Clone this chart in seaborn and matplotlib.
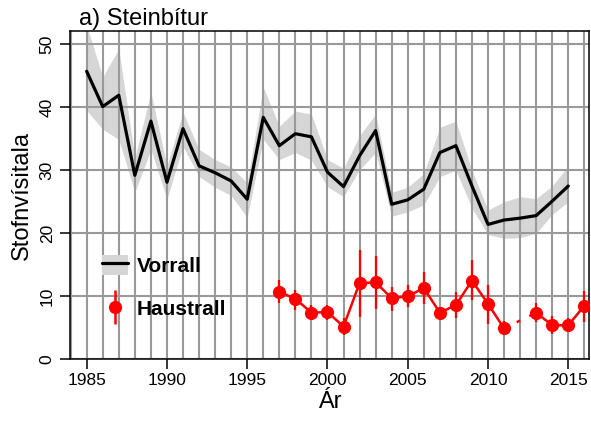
import numpy as np
import pandas as pd
import matplotlib
matplotlib.use("Agg")
import matplotlib.pyplot as plt
import matplotlib.ticker as mtick
from matplotlib.lines import Line2D
from matplotlib.patches import Patch
import seaborn as sns

# Vorrall (stofnvísitala + óvissubil)
ar_vorrall = list(range(1985, 2016))
vorrall = [45.7, 40.1, 41.9, 29.2, 37.8, 28.1, 36.6, 30.7, 29.6, 28.3,
           25.4, 38.4, 33.9, 35.8, 35.3, 29.7, 27.4, 32.3, 36.3, 24.6,
           25.3, 27.0, 32.8, 33.9, 27.5, 21.4, 22.1, 22.4, 22.8, 25.1, 27.5]
vorrall_lagt = [39.5, 36.5, 34.9, 26.5, 33.3, 25.4, 33.8, 29.0, 27.3, 26.0,
                22.5, 34.9, 31.7, 32.8, 31.6, 27.4, 25.8, 30.1, 32.8, 22.7,
                23.4, 24.5, 29.0, 30.0, 24.0, 19.8, 19.2, 19.3, 20.0, 23.0, 25.0]
vorrall_hatt = [53.0, 44.8, 49.3, 32.0, 42.4, 30.7, 39.2, 33.3, 31.7, 30.5,
                28.0, 43.2, 37.0, 39.4, 38.9, 31.7, 30.3, 35.5, 38.9, 26.5,
                27.3, 29.5, 36.8, 37.8, 30.0, 23.7, 25.0, 25.8, 25.5, 27.5, 30.7]

# Haustrall (2012 vantar)
ar_haustrall = list(range(1997, 2017))
haustrall = [10.7, 9.6, 7.4, 7.5, 5.2, 12.1, 12.2, 9.7, 10.0, 11.3,
             7.4, 8.6, 12.5, 8.8, 4.9, np.nan, 7.4, 5.4, 5.4, 8.5]
haustrall_lagt = [8.9, 7.8, 6.2, 6.3, 3.8, 6.7, 8.0, 7.7, 8.3, 8.8,
                  6.8, 6.5, 9.4, 5.6, 3.9, np.nan, 5.9, 4.0, 4.7, 5.9]
haustrall_hatt = [12.6, 11.0, 8.6, 8.6, 6.5, 17.3, 16.4, 11.5, 11.8, 13.9,
                  8.3, 10.7, 15.7, 11.8, 6.1, np.nan, 9.0, 6.9, 6.5, 10.8]

ytikk = [0, 10, 20, 30, 40, 50]
xtikk = [1985, 1990, 1995, 2000, 2005, 2010, 2015]

sns.set_theme(style="white")
plt.rcParams["font.family"] = ["Liberation Sans", "DejaVu Sans"]
plt.rcParams["text.color"] = "black"
plt.rcParams["axes.labelcolor"] = "black"
plt.rcParams["xtick.color"] = "black"
plt.rcParams["ytick.color"] = "black"

df_v = pd.DataFrame({"ar": ar_vorrall, "gildi": vorrall})
df_h = pd.DataFrame({"ar": ar_haustrall, "gildi": haustrall,
                     "lagt": haustrall_lagt, "hatt": haustrall_hatt})
# skipta í samfelldar raðir svo bilið 2012 haldist
df_h["hluti"] = df_h["gildi"].isna().cumsum()
df_h_ok = df_h.dropna()

fig = plt.figure(figsize=(5.91, 4.25), dpi=100)
ax = fig.add_axes([0.1184, 0.1546, 0.879, 0.7725])

grar = "#999999"
rautt = "#ff0000"

ax.fill_between(ar_vorrall, vorrall_lagt, vorrall_hatt, color="#d6d6d6", lw=0, zorder=0.2)
sns.lineplot(data=df_v, x="ar", y="gildi", color="black", lw=2.3, ax=ax, zorder=3)

# brotin lína yfir árið sem vantar
i = int(np.where(np.isnan(haustrall))[0][0])
ax.plot([ar_haustrall[i - 1], ar_haustrall[i + 1]], [haustrall[i - 1], haustrall[i + 1]],
        color=rautt, lw=1.8, dashes=(1.6, 4.0), zorder=3)

ax.vlines(df_h_ok["ar"], df_h_ok["lagt"], df_h_ok["hatt"], color=rautt, lw=1.6, zorder=3)
sns.lineplot(data=df_h_ok, x="ar", y="gildi", units="hluti", estimator=None,
             color=rautt, lw=1.8, marker="o", markersize=9.5, markeredgewidth=0,
             ax=ax, zorder=4)

ax.set_xlim(1983.96, 2016.32)
ax.set_ylim(0, 52.1)
ax.set_xticks(xtikk)
ax.set_yticks(ytikk)
ax.xaxis.set_minor_locator(mtick.MultipleLocator(1))
ax.set_axisbelow(True)
ax.grid(axis="x", which="both", color=grar, lw=1.5)
ax.grid(axis="y", which="major", color=grar, lw=1.5)

ax.tick_params(which="major", direction="out", length=7, width=1.1, color="black",
               bottom=True, left=True, labelsize=12.5, pad=3, labelcolor="black")
ax.tick_params(which="minor", length=0)
ax.tick_params(axis="y", labelrotation=90, pad=4)
for lbl in ax.get_yticklabels():
    lbl.set_va("center")

for s in ax.spines.values():
    s.set_color("black")
    s.set_linewidth(1.1)

ax.set_xlabel("Ár", fontsize=17, labelpad=2, color="black")
ax.set_ylabel("Stofnvísitala", fontsize=17, labelpad=5, color="black")
ax.text(0.017, 1.004, "a) Steinbítur", transform=ax.transAxes, fontsize=17,
        ha="left", va="bottom", color="black")

h_vor = (Patch(facecolor="#d6d6d6", edgecolor="none"), Line2D([], [], color="black", lw=2.3))
h_haust = (Line2D([], [], color=rautt, marker="|", markersize=25, mew=1.8, ls="none"),
           Line2D([], [], color=rautt, marker="o", markersize=9.5, mew=0, ls="none"))
leg = ax.legend([h_vor, h_haust], ["Vorrall", "Haustrall"], loc="center left",
                bbox_to_anchor=(0.062, 0.22), frameon=False, borderpad=0, borderaxespad=0,
                handlelength=1.25, handleheight=1.15, handletextpad=0.4, labelspacing=1.05,
                prop={"weight": "bold", "size": 15})
for t in leg.get_texts():
    t.set_color("black")

fig.savefig("out.png", dpi=100)
